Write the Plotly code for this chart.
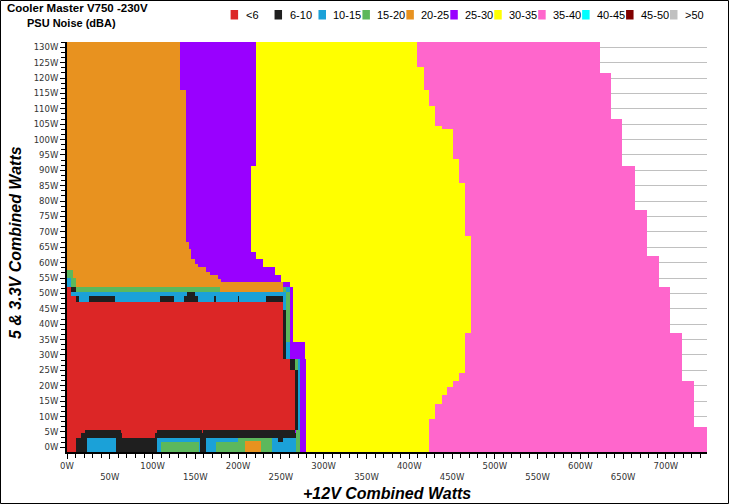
import numpy as np
import plotly.graph_objects as go

# ---------------- data ----------------
CATEGORIES = ["<6", "6-10", "10-15", "15-20", "20-25", "25-30", "30-35", "35-40", "40-45", "45-50", ">50"]
COLORS = ["#dc2626", "#1f1f1f", "#1ba1d8", "#5cb85c", "#e8921f", "#9900ff",
          "#ffff00", "#ff66cc", "#00ffff", "#800000", "#c0c0c0"]
LEGEND_TEXT = ["&lt;6", "6-10", "10-15", "15-20", "20-25", "25-30", "30-35",
               "35-40", "40-45", "45-50", "&gt;50"]

# Band boundaries as step functions of the 5&3.3V load (W):
# for loads >= *_Y[i] the band reaches +12V load *_X[i] (W)
PINK_Y = [-5, 6.7, 21.5, 36.8, 51.9, 61.9, 76.8, 91.7, 106.7, 121.6]
PINK_X = [750, 732.5, 718.5, 705, 691.6, 677, 663.5, 649, 635.5, 622.7]

YELLOW_Y = [-5, 9.2, 14.2, 16.8, 19.4, 21.5, 24.0, 36.8, 68.4, 85.9, 93.4, 103.4, 104.7, 110.9, 116.1, 123.7]
YELLOW_X = [423, 430, 437, 444, 451, 458, 465, 472, 465, 458, 451, 437, 430, 423, 417, 408.5]

PURPLE_Y = [-5, 28.4, 33.9, 52.1, 53.5, 56.0, 58.4, 60.9, 63.6, 91.7]
PURPLE_X = [279, 278, 264, 260.5, 249.6, 243, 228.6, 221.6, 215, 221.6]

ORANGE_Y = [-5, 52.1, 53.5, 54.7, 56.0, 57.1, 58.4, 59.6, 60.9, 64.7, 66.3, 116.1]
ORANGE_X = [0, 252.5, 180, 176.8, 167, 163, 152.6, 149.5, 145.6, 142.5, 138.6, 132]

# Low-load noise regions: (category, 12V from, 12V to, 5V from, 5V to)
REGIONS = [
    ("15-20", 0, 7.5, 55.2, 57.5),
    ("10-15", 0, 5, 52.1, 55.2),
    ("15-20", 5, 10, 52.1, 55.2),
    ("15-20", 0, 178.5, 50.4, 52.1),
    ("20-25", 178.5, 252.5, 50.4, 52.1),
    ("<6", 0, 5, 48.8, 52.1),
    ("6-10", 5, 10, 50.4, 52.1),
    ("15-20", 252.5, 256.5, 50.4, 52.1),
    ("10-15", 256.5, 260.5, 50.4, 52.1),
    ("10-15", 5, 252.5, 48.8, 50.4),
    ("6-10", 140, 149.5, 48.8, 50.4),
    ("10-15", 252.5, 256.5, 44.6, 50.4),
    ("15-20", 256.5, 260.5, 34, 50.4),
    ("6-10", 252.5, 256.5, 28.4, 44.6),
    ("10-15", 256.5, 260.5, 28.4, 34),
    ("10-15", 10.5, 252.5, 47.2, 48.8),
    ("<6", 0, 10.5, 47.2, 48.8),
    ("6-10", 10.5, 14, 47.2, 48.8),
    ("6-10", 26, 56, 47.2, 48.8),
    ("6-10", 108.5, 125, 47.2, 48.8),
    ("6-10", 136.5, 152.5, 47.2, 48.8),
    ("6-10", 171.5, 174, 47.2, 48.8),
    ("6-10", 200, 201.5, 47.2, 48.8),
    ("6-10", 233, 252.5, 47.2, 48.8),
    ("<6", 0, 252.5, -2, 47.2),
    ("<6", 252.5, 260.5, 5.6, 28.4),
    ("6-10", 260.5, 266.5, 25.1, 28.4),
    ("15-20", 266.5, 270, 25.1, 28.4),
    ("<6", 260.5, 266.5, 5.6, 25.1),
    ("6-10", 266.5, 270, 5.6, 25.1),
    ("10-15", 270, 272.5, 5.6, 28.4),
    ("6-10", 21, 62, 4.55, 5.6),
    ("6-10", 16, 64, 3.1, 4.55),
    ("6-10", 10.5, 104.8, -2, 3.1),
    ("10-15", 24, 57, -2, 3.1),
    ("6-10", 104.8, 157, 4.55, 5.6),
    ("6-10", 103, 159, 3.1, 4.55),
    ("6-10", 159, 266.5, 4.55, 5.6),
    ("6-10", 159, 267.5, 3.1, 4.55),
    ("10-15", 104.8, 155, -2, 3.1),
    ("15-20", 110.5, 154, -2, 1.6),
    ("6-10", 155, 163, -2, 3.1),
    ("10-15", 163, 267.5, -2, 3.1),
    ("15-20", 174, 200.5, -2, 1.6),
    ("15-20", 200.5, 240.5, -2, 3.1),
    ("20-25", 207, 226, -2, 1.8),
    ("6-10", 246, 252, 1.6, 4.55),
    ("15-20", 267.5, 272.5, -2, 5.6),
]

X_TICKS = list(range(0, 701, 50))
Y_TICKS = list(range(0, 131, 5))

# ---------------- build grid ----------------
x_edges = np.arange(0, 750.001, 1.25)
y_edges = np.arange(-2.0, 132.001, 0.5)
xc = (x_edges[:-1] + x_edges[1:]) / 2
yc = (y_edges[:-1] + y_edges[1:]) / 2
X, Y = np.meshgrid(xc, yc)
code = {c: i for i, c in enumerate(CATEGORIES)}


def step(ys, xs, y):
    idx = np.searchsorted(np.asarray(ys), y, side="right") - 1
    return np.asarray(xs, dtype=float)[idx]


Z = np.full(X.shape, np.nan)
Z[X < step(PINK_Y, PINK_X, Y)] = code["35-40"]
Z[X < step(YELLOW_Y, YELLOW_X, Y)] = code["30-35"]
Z[X < step(PURPLE_Y, PURPLE_X, Y)] = code["25-30"]
Z[X < step(ORANGE_Y, ORANGE_X, Y)] = code["20-25"]
for cat, x0, x1, y0, y1 in REGIONS:
    m = (X >= x0) & (X < x1) & (Y >= y0) & (Y < y1)
    Z[m] = code[cat]

n = len(CATEGORIES)
colorscale = []
for i, c in enumerate(COLORS):
    colorscale.append([i / n, c])
    colorscale.append([(i + 1) / n, c])

z_list = [[None if np.isnan(v) else int(v) for v in row] for row in Z]

fig = go.Figure()
fig.add_trace(go.Heatmap(
    x=x_edges.tolist(), y=y_edges.tolist(), z=z_list,
    colorscale=colorscale, zmin=-0.5, zmax=n - 0.5,
    showscale=False, hoverinfo="skip", zsmooth=False,
))

# ---------------- layout ----------------
L, R, T, B = 67, 22, 42, 52
W, H = 729, 504
PW, PH = W - L - R, H - T - B


def px2x(px):
    return (px - L) / PW


def py2y(py):
    return (H - B - py) / PH


tick_font = dict(family="DejaVu Sans", size=8.5, color="#333333")
xt_text = [("%dW" % v) if (v // 50) % 2 == 0 else ("<br>%dW" % v) for v in X_TICKS]

fig.update_layout(
    width=W, height=H,
    margin=dict(l=L, r=R, t=T, b=B, autoexpand=False),
    paper_bgcolor="white", plot_bgcolor="white",
    showlegend=False,
    xaxis=dict(
        range=[0, 748], tickmode="array", tickvals=X_TICKS, ticktext=xt_text,
        ticks="outside", ticklen=5, tickcolor="black", tickwidth=1,
        showline=True, linewidth=2, linecolor="black",
        showgrid=False, zeroline=False, tickfont=tick_font,
        minor=dict(tick0=0, dtick=10, ticks="outside", ticklen=4, tickcolor="black", showgrid=False),
        automargin=False,
    ),
    yaxis=dict(
        range=[-1.53, 131.7], tickmode="array", tickvals=Y_TICKS,
        ticktext=["%dW" % v for v in Y_TICKS],
        ticks="outside", ticklen=5, tickcolor="black", tickwidth=1,
        showline=True, linewidth=2, linecolor="black",
        showgrid=True, gridcolor="#c0c0c0", gridwidth=1, zeroline=False,
        tickfont=tick_font,
        minor=dict(tick0=0, dtick=5 / 3, ticks="outside", ticklen=4, tickcolor="black", showgrid=False),
        automargin=False,
    ),
)

annotations = [
    dict(text="<b>Cooler Master V750 -230V</b>", x=px2x(5), y=py2y(8.5), xref="paper", yref="paper",
         xanchor="left", yanchor="middle", showarrow=False,
         font=dict(family="Liberation Sans", size=11.5, color="black")),
    dict(text="<b>PSU Noise (dBA)</b>", x=px2x(24.5), y=py2y(23), xref="paper", yref="paper",
         xanchor="left", yanchor="middle", showarrow=False,
         font=dict(family="Liberation Sans", size=11, color="black")),
    dict(text="<b><i>+12V Combined Watts</i></b>", x=px2x(387), y=py2y(493), xref="paper", yref="paper",
         xanchor="center", yanchor="middle", showarrow=False,
         font=dict(family="Liberation Sans", size=16, color="black")),
    dict(text="<b><i>5 &amp; 3.3V Combined Watts</i></b>", x=px2x(15), y=py2y(243), xref="paper", yref="paper",
         xanchor="center", yanchor="middle", showarrow=False, textangle=-90,
         font=dict(family="Liberation Sans", size=16, color="black")),
]
shapes = [
    dict(type="rect", xref="paper", yref="paper", x0=px2x(0.5), x1=px2x(728.5),
         y0=py2y(503.5), y1=py2y(0.5), line=dict(color="black", width=1), layer="above"),
]
for i, (lab, col) in enumerate(zip(LEGEND_TEXT, COLORS)):
    sx = 230.6 + 43.94 * i
    shapes.append(dict(type="rect", xref="paper", yref="paper",
                       x0=px2x(sx), x1=px2x(sx + 7.5), y0=py2y(19.5), y1=py2y(10),
                       fillcolor=col, line=dict(width=0)))
    annotations.append(dict(text=lab, x=px2x(sx + 13), y=py2y(15.5), xref="paper", yref="paper",
                            xanchor="left", yanchor="middle", showarrow=False,
                            font=dict(family="Liberation Sans", size=11, color="black")))

fig.update_layout(annotations=annotations, shapes=shapes)
fig.write_html("out.html", config={"displayModeBar": False},
               post_script="document.body.style.margin='0';document.body.style.overflow='hidden';")
